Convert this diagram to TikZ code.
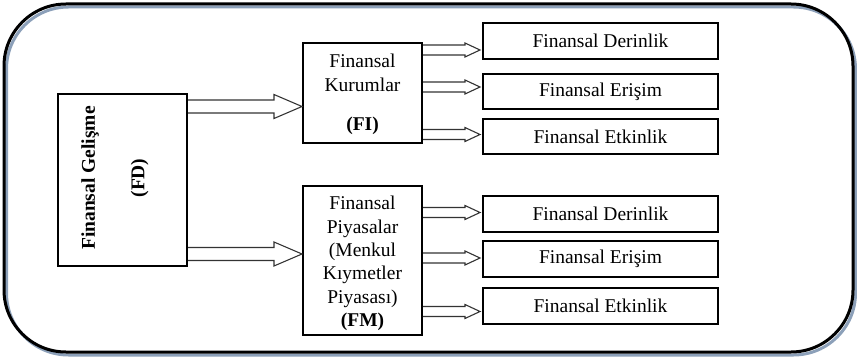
\documentclass[tikz,border=0pt]{standalone}
\usepackage{fontspec}
\setmainfont{Liberation Serif}
\usetikzlibrary{calc}
\definecolor{shadowc}{RGB}{140,160,185}
\newcommand\blockarr[5]{%
  \draw[arr] let \p1=(#1), \p2=(#2) in
    (\x1,\y1+#3) -- (\x2-#5,\y1+#3) -- (\x2-#5,\y1+#4) -- (\x2,\y1)
    -- (\x2-#5,\y1-#4) -- (\x2-#5,\y1-#3) -- (\x1,\y1-#3);}
\begin{document}
\begin{tikzpicture}[x=1pt,y=-1pt,
  box/.style={draw=black,line width=2pt,inner sep=0pt,fill=white},
  arr/.style={draw=black!80,line width=1.1pt,line join=miter},
  txt/.style={font=\fontsize{19.5}{23.4}\selectfont,align=center,inner sep=0pt},
  rbox/.style={box,minimum width=235pt,minimum height=35.5pt,txt}]
\useasboundingbox (0,0) rectangle (857,361);
% outer frame with shadow
\draw[line width=3pt,draw=shadowc,rounded corners=62pt] (6.5,7) rectangle (855.5,355);
\draw[line width=3pt,draw=black,rounded corners=62pt] (4,4) rectangle (853,352);
% left box
\node[box,minimum width=129pt,minimum height=172pt] (FD) at (122.5,180) {};
\node[txt,rotate=90,font=\fontsize{19.5}{23.4}\selectfont\bfseries] (FDt) at (115,178)
  {Finansal Gelişme\\[26pt](FD)};
% middle boxes
\node[box,minimum width=119pt,minimum height=100pt] (FI) at (362.5,93) {};
\node[txt] (FIt) at (362.5,94.5) {Finansal\\Kurumlar\\[16pt]\textbf{(FI)}};
\node[box,minimum width=119pt,minimum height=149pt] (FM) at (362.5,260.5) {};
\node[txt] (FMt) at (362.5,263.5) {Finansal\\Piyasalar\\(Menkul\\Kıymetler\\Piyasası)\\\textbf{(FM)}};
% right boxes
\node[rbox] (T1) at (600.5,41) {Finansal Derinlik};
\node[rbox] (T2) at (600.5,91.5) {Finansal Erişim};
\node[rbox] (T3) at (600.5,136.5) {Finansal Etkinlik};
\node[rbox] (B1) at (600.5,214) {Finansal Derinlik};
\node[rbox] (B2) at (600.5,259) {Finansal Erişim};
\node[rbox] (B3) at (600.5,306) {Finansal Etkinlik};
% arrow start points
\path (FD.east) ++(0,-73.5) coordinate (s1);
\path (FD.east) ++(0,74) coordinate (s2);
\path (FI.east) ++(0,-43) coordinate (f1);
\path (FI.east) ++(0,-6) coordinate (f2);
\path (FI.east) ++(0,41.5) coordinate (f3);
\path (FM.east) ++(0,-48) coordinate (m1);
\path (FM.east) ++(0,-2.5) coordinate (m2);
\path (FM.east) ++(0,51) coordinate (m3);
% big arrows
\blockarr{s1}{FI.west}{6.5pt}{12pt}{28pt}
\blockarr{s2}{FM.west}{6.5pt}{12pt}{28pt}
% small arrows
\blockarr{f1}{$(T1.west)+(-2,0)$}{5pt}{7pt}{15pt}
\blockarr{f2}{$(T2.west)+(-2,0)$}{5pt}{7pt}{15pt}
\blockarr{f3}{$(T3.west)+(-2,0)$}{5pt}{7pt}{15pt}
\blockarr{m1}{$(B1.west)+(-2,0)$}{5pt}{7pt}{15pt}
\blockarr{m2}{$(B2.west)+(-2,0)$}{5pt}{7pt}{15pt}
\blockarr{m3}{$(B3.west)+(-2,0)$}{5pt}{7pt}{15pt}
\end{tikzpicture}
\end{document}
